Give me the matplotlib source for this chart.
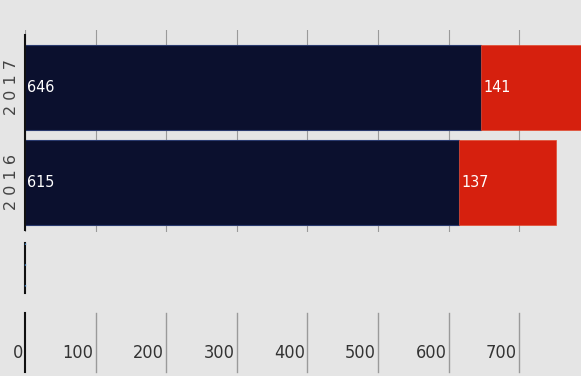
import matplotlib
matplotlib.use("Agg")
import matplotlib.pyplot as plt
from matplotlib.lines import Line2D
from matplotlib import font_manager

years = ["2016", "2017"]
dark_vals = [615, 646]
red_vals = [137, 141]
tick_vals = [0, 100, 200, 300, 400, 500, 600, 700]

print(sorted({(f.name, f.stretch) for f in font_manager.fontManager.ttflist}))

BG = "#e5e5e5"
DARK = "#0b102e"
RED = "#d6200e"
W, H = 581, 376
fig = plt.figure(figsize=(W / 100, H / 100), dpi=100)
fig.patch.set_facecolor(BG)

x0 = 25 / W
xmax = (W - 25) / 70.6 * 100
ax = fig.add_axes([x0, 1 - 232 / H, 1 - x0, (232 - 30) / H])
ax.set_facecolor(BG)
ypos = list(range(len(years)))
ax.barh(ypos, dark_vals, height=0.895, color=DARK, edgecolor="#2a3a6e", linewidth=0.8, zorder=2)
ax.barh(ypos, red_vals, left=dark_vals, height=0.895, color=RED, edgecolor="#e04a30", linewidth=0.5, zorder=2)
ax.set_xlim(0, xmax)
ax.set_ylim(-0.526, 1.605)
ax.set_xticks(tick_vals)
ax.grid(axis="x", color="#9a9a9a", linewidth=0.8, zorder=0)
ax.tick_params(length=0, labelbottom=False, labelleft=False)
for s in ["top", "right", "bottom"]:
    ax.spines[s].set_visible(False)
ax.spines["left"].set_color("#111111")
ax.spines["left"].set_linewidth(1.5)
ax.spines["left"].set_bounds(-0.5, 1.55)

for y, d, r, lab in zip(ypos, dark_vals, red_vals, years):
    ax.text(3, y, str(d), color="white", fontsize=11.5, fontstretch="condensed",
            va="center", ha="left", zorder=3)
    ax.text(d + 3, y, str(r), color="white", fontsize=11.5, fontstretch="condensed",
            va="center", ha="left", zorder=3)
    ax.text(-13 / 556, y, " ".join(lab), transform=ax.get_yaxis_transform(), rotation=90,
            color="#444444", fontsize=11.5, va="center", ha="center")

# small dashed stub under the axis
fig.add_artist(Line2D([x0, x0], [1 - 243 / H, 1 - 293 / H], color="#111111", lw=1.5))
fig.add_artist(Line2D([x0, x0], [1 - 243 / H, 1 - 293 / H], color="#4a90d0", lw=1.0,
                      linestyle=(0, (1, 14))))

# bottom tick strip
ax2 = fig.add_axes([x0, 1 - 372 / H, 1 - x0, (372 - 313) / H])
ax2.set_facecolor(BG)
ax2.set_xlim(0, xmax)
ax2.set_ylim(0, 1)
ax2.axis("off")
for t in tick_vals:
    ax2.axvline(t, color="#111111" if t == 0 else "#9a9a9a", lw=1.5 if t == 0 else 1.0, clip_on=False)
    ax2.text(t - 3, 0.33, str(t), ha="right", va="center", fontsize=13,
             fontstretch="condensed", color="#333333")

fig.savefig("out.png", dpi=100, facecolor=BG)
